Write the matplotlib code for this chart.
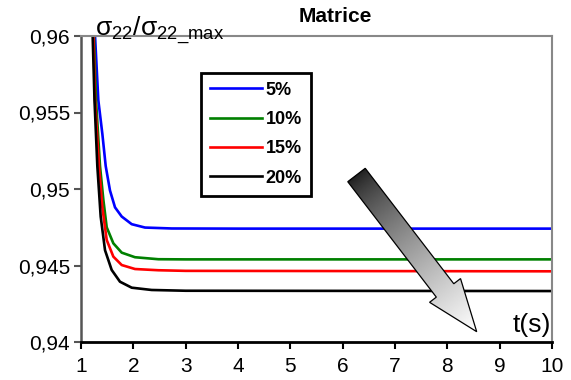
import numpy as np
import matplotlib
matplotlib.use("Agg")
import matplotlib.pyplot as plt
from matplotlib.patches import Polygon
from matplotlib.ticker import FixedLocator, FixedFormatter

plt.rcParams['font.family'] = ['Liberation Sans', 'DejaVu Sans']
plt.rcParams['mathtext.fontset'] = 'custom'
plt.rcParams['mathtext.rm'] = 'Liberation Sans'
plt.rcParams['mathtext.it'] = 'Liberation Sans:italic'
plt.rcParams['mathtext.bf'] = 'Liberation Sans:bold'

# ---- data ----
labels = ['5%', '10%', '15%', '20%']
colors = ['#0000ff', '#008000', '#ff0000', '#000000']

t_5 = [1.24, 1.268, 1.331, 1.408, 1.472, 1.554, 1.65, 1.778, 1.969, 2.223, 2.733, 4.0, 10]
v_5 = [0.9619, 0.9600, 0.9558, 0.9536, 0.9515, 0.9499, 0.9488, 0.9482, 0.9477, 0.94748, 0.94742, 0.94741, 0.94741]

t_10 = [1.23, 1.248, 1.287, 1.363, 1.427, 1.491, 1.618, 1.778, 2.032, 2.478, 3.0, 10]
v_10 = [0.9619, 0.9600, 0.9558, 0.9515, 0.9493, 0.9475, 0.94645, 0.94584, 0.94554, 0.94541, 0.9454, 0.9454]

t_15 = [1.225, 1.238, 1.268, 1.344, 1.408, 1.491, 1.618, 1.778, 2.032, 2.478, 3.0, 10]
v_15 = [0.9618, 0.9600, 0.9558, 0.9515, 0.9488, 0.94667, 0.94558, 0.94503, 0.94477, 0.94469, 0.94465, 0.94462]

t_20 = [1.21, 1.223, 1.258, 1.312, 1.376, 1.459, 1.586, 1.745, 1.969, 2.351, 3.0, 10]
v_20 = [0.9616, 0.9600, 0.9558, 0.9515, 0.9482, 0.9460, 0.94471, 0.94394, 0.94355, 0.9434, 0.94335, 0.94333]

x_ticks = [1, 2, 3, 4, 5, 6, 7, 8, 9, 10]
y_ticks = [0.94, 0.945, 0.95, 0.955, 0.96]
y_tick_labels = ['0,94', '0,945', '0,95', '0,955', '0,96']

title = 'Matrice'
ylabel = r'$\mathrm{σ_{22}/σ_{22\_max}}$'
xlabel = 't(s)'

# ---- figure ----
W, H = 571, 380
fig = plt.figure(figsize=(W / 100, H / 100), dpi=100)
ax = fig.add_axes([81 / W, 1 - 342 / H, (552 - 81) / W, (342 - 36) / H])

series = [(t_5, v_5), (t_10, v_10), (t_15, v_15), (t_20, v_20)]
handles = []
for (t, v), c, lab in zip(series, colors, labels):
    h, = ax.plot(t, v, color=c, lw=1.9, label=lab, solid_joinstyle='round')
    handles.append(h)

ax.set_xlim(1, 10)
ax.set_ylim(0.94, 0.96)
ax.xaxis.set_major_locator(FixedLocator(x_ticks))
ax.yaxis.set_major_locator(FixedLocator(y_ticks))
ax.yaxis.set_major_formatter(FixedFormatter(y_tick_labels))
ax.tick_params(axis='both', direction='out', length=5, width=1.5, labelsize=15)
ax.tick_params(axis='y', colors='#555555', labelcolor='black', pad=3)
ax.tick_params(axis='x', colors='black', labelcolor='black', pad=6)

for s in ['top', 'right']:
    ax.spines[s].set_color('#888888')
    ax.spines[s].set_linewidth(1.5)
ax.spines['left'].set_color('#555555')
ax.spines['left'].set_linewidth(1.8)
ax.spines['bottom'].set_color('black')
ax.spines['bottom'].set_linewidth(2.0)

fig.text(335 / W, 1 - 17 / H, title, ha='center', va='center', fontsize=15, fontweight='bold')
ax.text(0.030, 0.997, ylabel, transform=ax.transAxes, ha='left', va='baseline', fontsize=19)
ax.text(0.998, 0.032, xlabel, transform=ax.transAxes, ha='right', va='baseline', fontsize=19)

leg = ax.legend(handles=handles, loc='upper left',
                bbox_to_anchor=(200.7 / W, 1 - 72.7 / H), bbox_transform=fig.transFigure,
                borderaxespad=0, fancybox=False, framealpha=1, edgecolor='black',
                prop={'weight': 'bold', 'size': 13}, handlelength=2.9,
                handletextpad=0.2, labelspacing=0.68, borderpad=0.5)
leg.get_frame().set_linewidth(2.0)

# ---- gradient arrow (overlay in pixel coordinates) ----
ov = fig.add_axes([0, 0, 1, 1], zorder=5)
ov.set_xlim(0, W)
ov.set_ylim(H, 0)
ov.axis('off')
ov.patch.set_alpha(0)

tail = np.array([356.5, 175.0])
tip = np.array([476.7, 331.7])
d = tip - tail
L = np.hypot(*d)
u = d / L
p = np.array([u[1], -u[0]])
shaft_hw, head_hw, head_len = 11.0, 19.5, 52.0
base = tip - u * head_len
pts = [tail + p * shaft_hw, base + p * shaft_hw, base + p * head_hw, tip,
       base - p * head_hw, base - p * shaft_hw, tail - p * shaft_hw]
poly = Polygon(pts, closed=True, facecolor='none', edgecolor='black', lw=0.9, zorder=6)
ov.add_patch(poly)

xs = np.linspace(330, 490, 200)
ys = np.linspace(150, 345, 240)
X, Y = np.meshgrid(xs, ys)
proj = ((X - tail[0]) * u[0] + (Y - tail[1]) * u[1]) / L
proj = np.clip(proj, 0, 1)
g = 0.12 + 0.88 * proj ** 0.75
img = ov.imshow(g, extent=[xs[0], xs[-1], ys[-1], ys[0]], cmap='gray', vmin=0, vmax=1,
                origin='upper', zorder=5, interpolation='bilinear', aspect='auto')
clip = Polygon(pts, closed=True, transform=ov.transData)
img.set_clip_path(clip)
ov.set_xlim(0, W)
ov.set_ylim(H, 0)

fig.savefig('out.png', dpi=100)
